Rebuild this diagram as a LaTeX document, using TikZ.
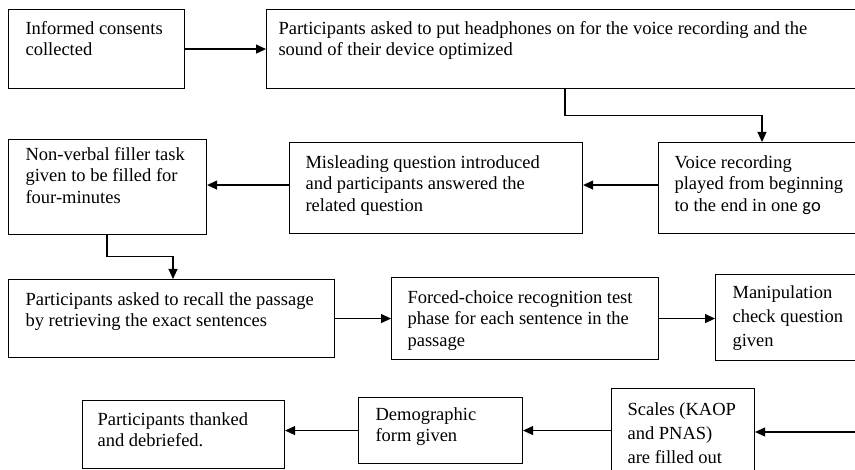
\documentclass[tikz,border=0pt]{standalone}
\usepackage{fontspec}
\setmainfont{Liberation Serif}
\newfontfamily\calfont{Carlito}
\usetikzlibrary{arrows.meta}
\tikzset{
  fbox/.style={draw=black, line width=1.1pt, inner sep=0pt, anchor=north west,
    font=\fontsize{18.5}{21.5}\selectfont},
  arr/.style={draw=black, line width=1.1pt, -{Triangle[length=10pt,width=9pt]}},
  ln/.style={draw=black, line width=1.1pt}
}
% name, x, y, width, height, left pad, top pad, text
\newcommand\flowbx[8]{%
  \node[fbox] (#1) at (#2,#3) {\parbox[c][#5pt][t]{#4pt}{\raggedright\leftskip=#6pt\relax\vspace*{#7pt}\strut #8}};}
\begin{document}
\begin{tikzpicture}[x=1pt,y=-1pt]
\useasboundingbox (0,0) rectangle (855,470);
\flowbx{b1}{8}{9}{176}{79}{17}{9.6}{Informed consents\\collected}
\flowbx{b2}{266}{9}{620}{79}{12}{9.6}{Participants asked to put headphones on for the voice recording and the\\sound of their device optimized}
\flowbx{f}{8}{139}{198}{95}{17}{5.6}{Non-verbal filler task\\given to be filled for\\four-minutes}
\flowbx{m}{289}{142}{293}{91}{16}{10.6}{Misleading question introduced\\and participants answered the\\related question}
\flowbx{v}{658}{142}{220}{91}{16}{10.6}{Voice recording\\played from beginning\\to the end in one {\calfont go}}
\flowbx{r}{8}{279}{326}{78}{17}{10.6}{Participants asked to recall the passage\\by retrieving the exact sentences}
\flowbx{fc}{391}{277}{267}{82}{16}{10.6}{Forced-choice recognition test\\phase for each sentence in the\\passage}
\flowbx{mc}{715}{274}{160}{86}{17}{8.6}{\baselineskip=24pt Manipulation\\check question\\given}
\flowbx{t}{82}{400}{202}{68}{15}{9.6}{Participants thanked\\and debriefed.}
\flowbx{d}{358}{397}{164}{66}{17}{7.6}{Demographic\\form given}
\flowbx{s}{611}{388}{143}{90}{16}{11.6}{\baselineskip=24pt Scales (KAOP\\and PNAS)\\are filled out}
\coordinate (sr) at (860,432);
% connectors
\draw[arr] (b1.east) -- (b1.east -| b2.west);
\draw[arr] ([xshift=299pt]b2.south west) -- ++(0,26) -| ([xshift=104pt]v.north west);
\draw[arr] ([yshift=3pt]v.west) -- ([yshift=3pt]m.east);
\draw[arr] ([yshift=3pt]m.west) -- ([yshift=3pt]m.west -| f.east);
\draw[arr] ([xshift=99pt]f.south west) -- ++(0,21) -| ([xshift=165pt]r.north west);
\draw[arr] (r.east) -- (r.east -| fc.west);
\draw[arr] (fc.east) -- (fc.east -| mc.west);
\draw[arr] (sr) -- (sr -| s.east);
\draw[arr] (s.west |- d.west) -- (d.east);
\draw[arr] (d.west) -- (d.west -| t.east);
\end{tikzpicture}
\end{document}
